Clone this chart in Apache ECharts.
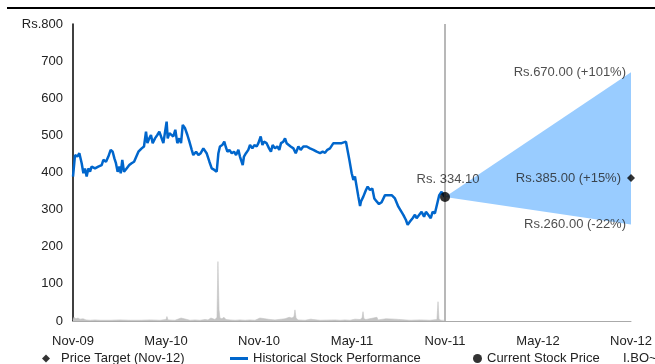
<!DOCTYPE html>
<html>
<head>
<meta charset="utf-8">
<script src="https://cdn.jsdelivr.net/npm/echarts@6/dist/echarts.min.js"></script>
<style>
  html, body { margin: 0; padding: 0; background: #fff; }
  #chart { width: 655px; height: 364px; }
</style>
</head>
<body>
<div id="chart"></div>
<script>
// x positions are months counted from Nov-09
const tickLabels = ['Nov-09', 'May-10', 'Nov-10', 'May-11', 'Nov-11', 'May-12', 'Nov-12'];

const priceMonths = [
  0, 0.13, 0.28, 0.41, 0.56, 0.67, 0.77, 0.88, 0.99, 1.10,
  1.20, 1.42, 1.63, 1.85, 1.96, 2.13, 2.28, 2.43, 2.56, 2.67,
  2.77, 2.88, 2.99, 3.08, 3.18, 3.29, 3.46, 3.63, 3.78, 3.94,
  4.06, 4.22, 4.43, 4.58, 4.71, 4.80, 4.92, 5.03, 5.14, 5.29,
  5.44, 5.57, 5.68, 5.83, 5.94, 6.04, 6.11, 6.22, 6.32, 6.47,
  6.60, 6.73, 6.86, 6.97, 7.08, 7.23, 7.38, 7.51, 7.66, 7.76,
  7.94, 8.09, 8.24, 8.41, 8.52, 8.62, 8.80, 8.95, 9.12, 9.27,
  9.38, 9.48, 9.63, 9.76, 9.85, 9.96, 10.09, 10.24, 10.39, 10.52,
  10.67, 10.77, 10.88, 10.95, 11.03, 11.16, 11.31, 11.42, 11.57, 11.70,
  11.85, 11.96, 12.11, 12.22, 12.32, 12.49, 12.65, 12.77, 12.88, 13.03,
  13.18, 13.31, 13.42, 13.57, 13.68, 13.78, 13.89, 14.04, 14.22, 14.37,
  14.54, 14.69, 14.86, 15.08, 15.29, 15.51, 15.72, 15.94, 16.11, 16.26,
  16.41, 16.58, 16.80, 17.01, 17.33, 17.61, 17.72, 17.83, 17.98, 18.09,
  18.19, 18.30, 18.41, 18.52, 18.58, 18.73, 18.90, 19.01, 19.16, 19.31,
  19.44, 19.59, 19.74, 19.91, 20.13, 20.34, 20.56, 20.77, 20.99, 21.10,
  21.31, 21.48, 21.59, 21.74, 21.91, 22.06, 22.17, 22.34, 22.49, 22.65,
  22.77, 22.92, 23.08, 23.20, 23.35, 23.46, 23.53, 23.63, 23.78, 23.94,
  24
];
const priceValues = [
  389, 447, 443, 452, 425, 398, 411, 389, 411, 402,
  416, 411, 416, 420, 434, 429, 443, 461, 456, 438,
  425, 402, 416, 398, 434, 402, 411, 420, 425, 429,
  425, 456, 465, 470, 510, 479, 492, 501, 479, 492,
  501, 510, 497, 479, 474, 537, 492, 506, 510, 497,
  515, 479, 492, 479, 528, 519, 501, 483, 461, 447,
  456, 447, 452, 465, 470, 452, 429, 411, 407, 402,
  452, 470, 474, 483, 470, 456, 461, 452, 456, 447,
  461, 443, 447, 420, 443, 452, 461, 474, 465, 474,
  470, 479, 497, 474, 483, 479, 465, 456, 474, 465,
  470, 461, 479, 483, 492, 479, 483, 470, 465, 452,
  470, 461, 470, 470, 465, 461, 456, 452, 456, 453,
  461, 465, 479, 479, 479, 483, 479, 434, 398, 380,
  389, 362, 335, 310, 322, 335, 353, 362, 353, 357,
  330, 322, 315, 320, 339, 339, 339, 330, 308, 303,
  286, 272, 259, 268, 277, 286, 277, 286, 294, 281,
  294, 286, 277, 294, 290, 294, 322, 339, 348, 337,
  334.10
];

const volumeMonths = [0, 0.06, 0.19, 0.32, 0.45, 0.65, 0.84, 1.10, 1.42, 1.74, 2.39, 3.03, 3.68, 4.32, 4.97, 5.61, 6.0, 6.06, 6.13, 6.58, 6.97, 7.03, 7.55, 7.87, 8.19, 8.52, 8.71, 8.90, 8.97, 9.16, 9.29, 9.35, 9.42, 9.48, 9.61, 9.74, 9.87, 10.13, 10.45, 10.77, 11.10, 11.42, 11.74, 12.06, 12.13, 12.71, 13.03, 13.68, 13.94, 14.0, 14.13, 14.26, 14.32, 14.39, 14.52, 14.97, 15.35, 15.42, 15.48, 15.94, 16.90, 17.23, 17.55, 17.87, 18.19, 18.52, 18.65, 18.71, 18.77, 18.90, 19.61, 19.68, 20.19, 20.26, 20.77, 20.84, 21.74, 22.39, 23.03, 23.48, 23.55, 23.61, 23.74, 24.0];
const volumeValues = [4, 10, 6, 8, 5, 6, 3, 2, 3, 2, 2, 3, 2, 2, 3, 2, 4, 12, 3, 2, 8, 3, 2, 3, 2, 4, 3, 8, 3, 4, 10, 160, 30, 8, 6, 10, 4, 3, 2, 3, 2, 3, 2, 8, 3, 4, 3, 6, 10, 5, 8, 12, 30, 8, 3, 2, 5, 8, 4, 2, 3, 2, 3, 2, 5, 4, 8, 25, 6, 4, 10, 3, 6, 2, 5, 2, 2, 3, 2, 4, 52, 5, 2, 2];

const currentMonth = 24;
const currentPrice = 334.10;
const targetMonth = 36;
const targetHigh = 670;
const targetMean = 385;
const targetLow = 260;

const FONT = '"Liberation Sans", Arial, sans-serif';
const TEXT = '#222';
const FS = 13;

const pct = v => {
  const p = Math.round((v / currentPrice - 1) * 100);
  return (p >= 0 ? '+' : '') + p + '%';
};
const targetLabel = v => 'Rs.' + v.toFixed(2) + ' (' + pct(v) + ')';

const priceData = priceMonths.map((m, i) => [m, priceValues[i]]);
const volumeData = volumeMonths.map((m, i) => [m, volumeValues[i]]);
const fanPoints = [[currentMonth, currentPrice], [targetMonth, targetHigh], [targetMonth, targetLow]];

const chart = echarts.init(document.getElementById('chart'), null, { renderer: 'canvas' });

const legendBase = {
  top: 352,
  selectedMode: false,
  padding: 0,
  textStyle: { fontFamily: FONT, fontSize: FS, color: TEXT }
};

chart.setOption({
  animation: false,
  textStyle: { fontFamily: FONT },
  grid: { left: 73, right: 24, top: 24, bottom: 43 },
  graphic: [{
    type: 'line',
    shape: { x1: 7, y1: 8, x2: 655, y2: 8 },
    style: { stroke: '#000', lineWidth: 2 }
  }],
  legend: [
    Object.assign({}, legendBase, {
      left: 42, itemWidth: 8, itemHeight: 8,
      textStyle: { fontFamily: FONT, fontSize: FS, color: TEXT, padding: [0, 0, 0, 6] },
      data: [{ name: 'Price Target (Nov-12)', icon: 'diamond' }]
    }),
    Object.assign({}, legendBase, { left: 230, itemWidth: 18, itemHeight: 3, data: [{ name: 'Historical Stock Performance', icon: 'rect' }] }),
    Object.assign({}, legendBase, { left: 473, itemWidth: 9, itemHeight: 9, data: [{ name: 'Current Stock Price', icon: 'circle' }] }),
    Object.assign({}, legendBase, { left: 617, itemWidth: 1, itemHeight: 1, data: [{ name: 'I.BO~Volume', icon: 'rect', itemStyle: { opacity: 0 } }] })
  ],
  xAxis: {
    type: 'value',
    min: 0, max: 36, interval: 6,
    axisLine: { show: true, lineStyle: { color: '#aaa', width: 1 } },
    axisTick: { show: false },
    splitLine: { show: false },
    axisLabel: {
      margin: 14,
      fontSize: FS, color: TEXT, fontFamily: FONT,
      formatter: v => tickLabels[Math.round(v / 6)]
    }
  },
  yAxis: {
    type: 'value',
    min: 0, max: 800, interval: 100,
    axisLine: { show: true, lineStyle: { color: '#000', width: 1.5 } },
    axisTick: { show: false },
    splitLine: { show: false },
    axisLabel: {
      margin: 10,
      fontSize: FS, color: TEXT, fontFamily: FONT,
      formatter: v => (v === 800 ? 'Rs.' : '') + v
    }
  },
  series: [
    {
      name: 'I.BO~Volume',
      type: 'line',
      data: volumeData,
      symbol: 'none',
      lineStyle: { width: 0.6, color: '#c4c4c4' },
      areaStyle: { color: '#c4c4c4', opacity: 1 },
      z: 1
    },
    {
      name: 'Fan',
      type: 'custom',
      data: [0],
      renderItem: (params, api) => ({
        type: 'polygon',
        shape: { points: fanPoints.map(p => api.coord(p)) },
        style: { fill: '#99ccff' }
      }),
      z: 2
    },
    {
      name: 'Historical Stock Performance',
      type: 'line',
      data: priceData,
      symbol: 'none',
      lineStyle: { color: '#0066cc', width: 2.5 },
      itemStyle: { color: '#0066cc' },
      markLine: {
        silent: true,
        symbol: 'none',
        label: { show: false },
        lineStyle: { color: '#b8b8b8', width: 2, type: 'solid' },
        data: [{ xAxis: currentMonth }]
      },
      z: 3
    },
    {
      name: 'Current Stock Price',
      type: 'scatter',
      data: [[currentMonth, currentPrice]],
      symbol: 'circle',
      symbolSize: 10,
      itemStyle: { color: '#000' },
      label: {
        show: true, position: 'top', distance: 6, offset: [3, 0],
        fontSize: FS, color: TEXT, fontFamily: FONT,
        formatter: p => 'Rs. ' + p.value[1].toFixed(2)
      },
      z: 5
    },
    {
      name: 'Price Target (Nov-12)',
      type: 'scatter',
      data: [[targetMonth, targetMean]],
      symbol: 'diamond',
      symbolSize: 8,
      itemStyle: { color: '#000' },
      label: {
        show: true, position: 'left', distance: 6,
        fontSize: FS, color: TEXT, fontFamily: FONT,
        formatter: p => targetLabel(p.value[1])
      },
      z: 5
    },
    {
      name: 'Target Range',
      type: 'scatter',
      data: [[targetMonth, targetHigh], [targetMonth, targetLow]],
      symbolSize: 0,
      label: {
        show: true, position: 'left', distance: 5,
        fontSize: FS, color: TEXT, fontFamily: FONT,
        formatter: p => targetLabel(p.value[1])
      },
      z: 5
    }
  ]
});
</script>
</body>
</html>
